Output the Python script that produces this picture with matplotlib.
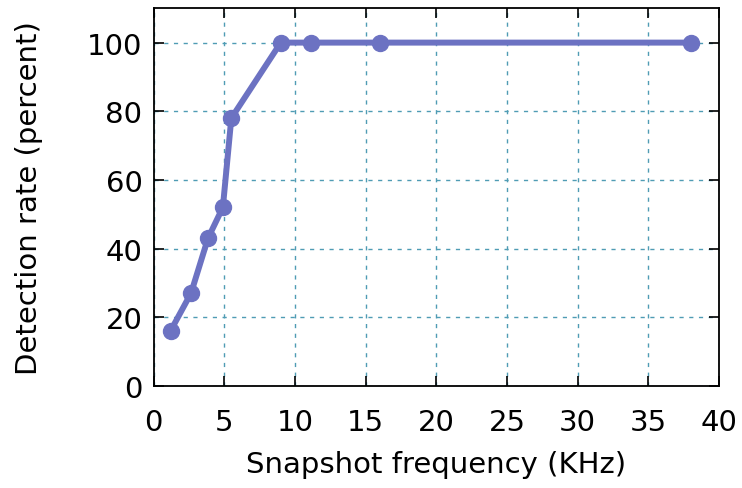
import matplotlib
matplotlib.use("Agg")
import matplotlib.pyplot as plt

# snapshot frequency (KHz) vs detection rate (%)
freq = [1.2, 2.65, 3.85, 4.9, 5.5, 9.0, 11.15, 16.0, 38.0]
rate = [16, 27, 43, 52, 78, 100, 100, 100, 100]

xticks = [0, 5, 10, 15, 20, 25, 30, 35, 40]
yticks = [0, 20, 40, 60, 80, 100]

fig = plt.figure(figsize=(7.42, 4.89), dpi=100)
ax = fig.add_axes([0.207, 0.209, 0.762, 0.772])

ax.plot(freq, rate, color="#6c72c2", lw=4.3, marker="o", ms=11.5,
        solid_joinstyle="round", zorder=3)

ax.set_xlim(0, 40)
ax.set_ylim(0, 110)
ax.set_xticks(xticks)
ax.set_yticks(yticks)

ax.grid(True, ls=(0, (3, 4)), color="#4f9cb4", lw=1.0)
ax.tick_params(direction="in", top=True, right=True, length=7, width=1.2,
               labelsize=21)
ax.tick_params(axis="x", pad=16)
ax.tick_params(axis="y", pad=8)
for s in ax.spines.values():
    s.set_linewidth(1.3)

ax.set_xlabel("Snapshot frequency (KHz)", fontsize=21, labelpad=10)
ax.set_ylabel("Detection rate (percent)", fontsize=21, labelpad=32)

fig.savefig("out.png", dpi=100)
